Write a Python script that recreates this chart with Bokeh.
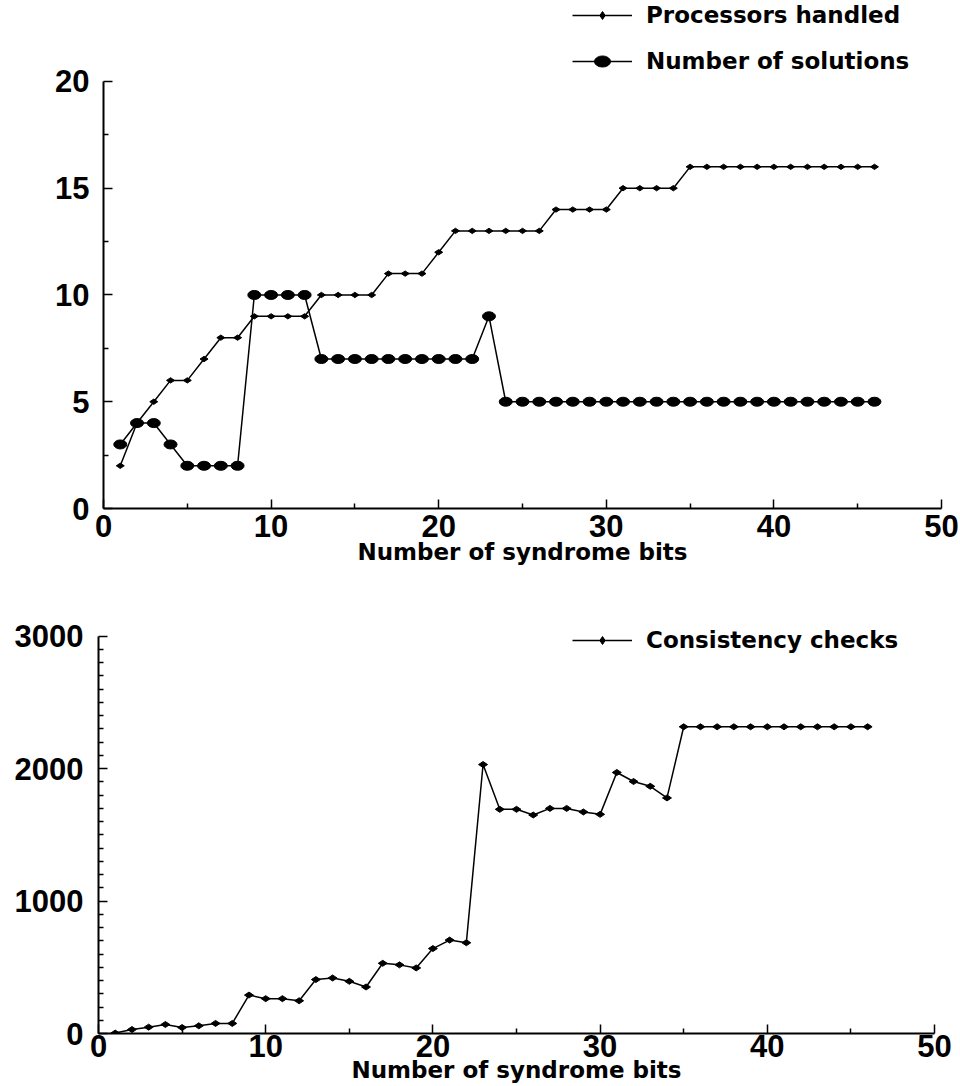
import numpy as np
from bokeh.plotting import figure
from bokeh.layouts import column
from bokeh.models import Range1d, FixedTicker, Legend, LegendItem, ColumnDataSource
from bokeh.embed import file_html
from bokeh.resources import INLINE

# ---------------- data ----------------
bits = list(range(1, 47))
processors = [2, 4, 5, 6, 6, 7, 8, 8, 9, 9, 9, 9, 10, 10, 10, 10, 11, 11, 11, 12,
              13, 13, 13, 13, 13, 13, 14, 14, 14, 14, 15, 15, 15, 15,
              16, 16, 16, 16, 16, 16, 16, 16, 16, 16, 16, 16]
solutions = [3, 4, 4, 3, 2, 2, 2, 2, 10, 10, 10, 10, 7, 7, 7, 7, 7, 7, 7, 7, 7, 7, 9,
             5, 5, 5, 5, 5, 5, 5, 5, 5, 5, 5, 5, 5, 5, 5, 5, 5, 5, 5, 5, 5, 5, 5]
checks = [3, 30, 48, 68, 45, 58, 76, 76, 290, 263, 263, 247, 407, 419, 394, 351,
          530, 518, 495, 641, 705, 685, 2030, 1692, 1692, 1649, 1699, 1699, 1672,
          1654, 1970, 1902, 1866, 1778,
          2315, 2315, 2315, 2315, 2315, 2315, 2315, 2315, 2315, 2315, 2315, 2315]

x_ticks = [0, 10, 20, 30, 40, 50]
x_minor = [5, 15, 25, 35, 45]
top_y_ticks = [0, 5, 10, 15, 20]
top_y_minor = [2.5, 7.5, 12.5, 17.5]
bot_y_ticks = [0, 1000, 2000, 3000]
bot_y_minor = [v for v in range(100, 3000, 100) if v % 1000 != 0]

x_label = "Number of syndrome bits"
label_proc = "Processors handled"
label_sol = "Number of solutions"
label_chk = "Consistency checks"

TICK_FONT = "Liberation Sans"
TEXT_FONT = "DejaVu Sans"


def style(p, xt, xm, yt, ym, tick_standoff, label_standoff, y_standoff):
    p.xaxis.ticker = FixedTicker(ticks=xt, minor_ticks=xm)
    p.yaxis.ticker = FixedTicker(ticks=yt, minor_ticks=ym)
    for ax in (p.xaxis[0], p.yaxis[0]):
        ax.axis_line_width = 2
        ax.axis_line_color = "black"
        ax.major_tick_in = 9
        ax.major_tick_out = 0
        ax.minor_tick_in = 5
        ax.minor_tick_out = 0
        ax.major_tick_line_width = 1.5
        ax.minor_tick_line_width = 1.5
        ax.major_label_text_font = TICK_FONT
        ax.major_label_text_font_style = "bold"
        ax.major_label_text_font_size = "31px"
        ax.major_label_text_color = "black"
    p.xaxis.major_label_standoff = tick_standoff
    p.yaxis.major_label_standoff = y_standoff
    p.xaxis.axis_label = x_label
    p.xaxis.axis_label_text_font = TEXT_FONT
    p.xaxis.axis_label_text_font_style = "bold"
    p.xaxis.axis_label_text_font_size = "23px"
    p.xaxis.axis_label_text_color = "black"
    p.xaxis.axis_label_standoff = label_standoff
    p.xgrid.visible = False
    p.ygrid.visible = False
    p.outline_line_color = None
    p.background_fill_color = "white"
    p.border_fill_color = "white"


def legend_for(items, loc, spacing):
    lg = Legend(items=items, location=loc, orientation="vertical",
                background_fill_alpha=0, border_line_color=None,
                padding=0, margin=0, spacing=spacing,
                glyph_width=60, glyph_height=20, label_height=20,
                label_standoff=14,
                label_text_font=TEXT_FONT, label_text_font_style="bold",
                label_text_font_size="23px", label_text_color="black")
    return lg


# ---------------- top chart ----------------
src1 = ColumnDataSource(dict(x=bits, proc=processors, sol=solutions))
p1 = figure(width=955, height=575, x_range=Range1d(0, 50), y_range=Range1d(0, 23.79),
            output_backend="svg", toolbar_location=None,
            min_border_left=98, min_border_right=19, min_border_top=0, min_border_bottom=67)
p1.margin = (0, 0, 0, 5)
style(p1, x_ticks, x_minor, top_y_ticks, top_y_minor, 6, -1, 14)
p1.yaxis.bounds = (0, 20)

r_pl = p1.line("x", "proc", source=src1, line_color="black", line_width=1.5)
r_pm = p1.scatter("x", "proc", source=src1, marker="diamond", size=8, angle=np.pi / 2,
                  fill_color="black", line_color="black")
r_sl = p1.line("x", "sol", source=src1, line_color="black", line_width=1.5)
r_sm = p1.ellipse("x", "sol", source=src1, width=13, height=9,
                  width_units="screen", height_units="screen",
                  fill_color="black", line_color="black")

lg1 = legend_for([LegendItem(label=label_proc, renderers=[r_pl, r_pm]),
                  LegendItem(label=label_sol, renderers=[r_sl, r_sm])],
                 (469, 434), 20)
p1.add_layout(lg1)

# ---------------- bottom chart ----------------
src2 = ColumnDataSource(dict(x=bits, chk=checks))
p2 = figure(width=953, height=511, x_range=Range1d(0, 50), y_range=Range1d(0, 3155),
            output_backend="svg", toolbar_location=None,
            min_border_left=98, min_border_right=19, min_border_top=40, min_border_bottom=53)
p2.margin = (0, 7, 0, 0)
style(p2, x_ticks, x_minor, bot_y_ticks, bot_y_minor, 1, -3, 15)
p2.yaxis.bounds = (0, 3000)

r_cl = p2.line("x", "chk", source=src2, line_color="black", line_width=1.5)
r_cm = p2.scatter("x", "chk", source=src2, marker="diamond", size=9, angle=np.pi / 2,
                  fill_color="black", line_color="black")
lg2 = legend_for([LegendItem(label=label_chk, renderers=[r_cl, r_cm])], (474, 380), 0)
p2.add_layout(lg2)

layout = column(p1, p2, spacing=0)
open("out.html", "w").write(file_html(layout, INLINE))
